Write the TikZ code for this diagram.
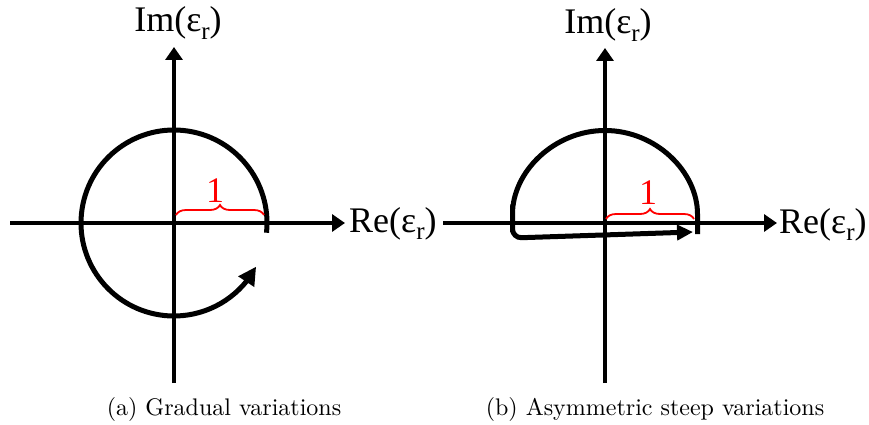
\documentclass[tikz,border=0pt]{standalone}
\usepackage{fontspec}
\newfontfamily\labfont{Liberation Serif}
\newfontfamily\capfont{lmroman10-regular}[Extension=.otf]
\usetikzlibrary{arrows.meta,decorations.pathreplacing,bending,calc}
\newcommand\epsrlab{(ε\raisebox{-0.22em}{\fontsize{25}{25}\selectfont r})}
\begin{document}
\begin{tikzpicture}[x=1pt,y=1pt,
  axis/.style={line width=4pt,-{Triangle[length=13pt,width=17pt]}},
  curve/.style={line width=5pt},
  lab/.style={font=\labfont\fontsize{36}{40}\selectfont, inner sep=0pt},
  one/.style={font=\labfont\fontsize{36}{40}\selectfont, text=red, inner sep=0pt},
  bracey/.style={red, line width=1.8pt, decorate, decoration={brace,amplitude=10pt}},
  captext/.style={font=\capfont\fontsize{24}{28}\selectfont, inner sep=0pt}
]
\useasboundingbox (0,0) rectangle (869,424);
% ---------- left panel ----------
\coordinate (O1) at (174,201);
\coordinate (L1) at (10,201);
\coordinate (R1) at (345,201);
\coordinate (B1) at (174,41);
\coordinate (T1) at (174,377);
\draw[axis] (L1) -- (R1);
\draw[axis] (B1) -- (T1);
\node[lab, anchor=base] (im1) at (178,392) {Im\epsrlab};
\node[lab, anchor=base west] (re1) at (349,192) {Re\epsrlab};
\draw[curve, -{Triangle[length=18pt,width=18pt]}] ($(O1)+(-6:93)$) arc[start angle=-6, end angle=332, radius=93];
\coordinate (b1s) at (176,209);
\coordinate (b1e) at (264,209);
\draw[bracey] (b1s) -- (b1e);
\node[one, anchor=base] (one1) at (215,222) {1};
\node[captext, anchor=base] (cap1) at (224,9) {(a) Gradual variations};
% ---------- right panel ----------
\coordinate (O2) at (605,201);
\coordinate (L2) at (443,201);
\coordinate (R2) at (777,201);
\coordinate (B2) at (605,41);
\coordinate (T2) at (605,376);
\draw[axis] (L2) -- (R2);
\draw[axis] (B2) -- (T2);
\node[lab, anchor=base] (im2) at (608,390) {Im\epsrlab};
\node[lab, anchor=base west] (re2) at (779,191) {Re\epsrlab};
\draw[curve, rounded corners=9pt, -{Triangle[length=16pt,width=15pt]}] (697.5,190) -- (697.5,201) arc[start angle=0, end angle=180, radius=92.5] -- (512.5,186) -- (693,192);
\coordinate (b2s) at (606,205);
\coordinate (b2e) at (694,205);
\draw[bracey] (b2s) -- (b2e);
\node[one, anchor=base] (one2) at (648,220) {1};
\node[captext, anchor=base] (cap2) at (655,9) {(b) Asymmetric steep variations};
\end{tikzpicture}
\end{document}
